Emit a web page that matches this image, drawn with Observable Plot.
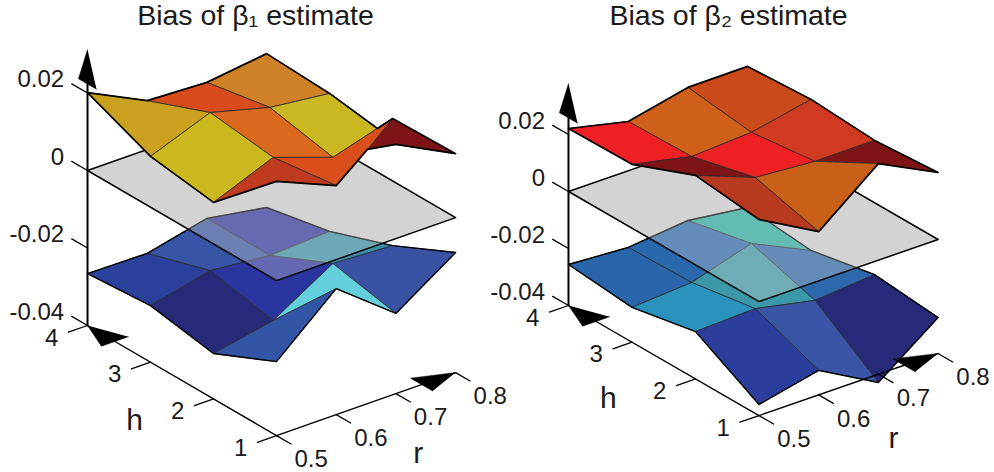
<!DOCTYPE html>
<html>
<head>
<meta charset="utf-8">
<script src="https://cdn.jsdelivr.net/npm/d3@7"></script>
<script src="https://cdn.jsdelivr.net/npm/@observablehq/plot@0.6"></script>
<style>html,body{margin:0;padding:0;background:#fff}svg{display:block}</style>
</head>
<body>
<div id="chart"></div>
<script>
const rValues = [0.5, 0.6, 0.7, 0.8];
const hValues = [4, 3, 2, 1];
const zTicks = [0.02, 0, -0.02, -0.04];
const zTickLabels = ["0.02", "0", "-0.02", "-0.04"];

// bias values: rows follow hValues, columns follow rValues
const beta1Upper = [
  [0.0201, 0.0126, 0.0119, 0.0139],
  [0.0131, 0.0190, 0.0149, 0.0131],
  [0.0107, 0.0169, 0.0115, 0.0161],
  [0.0256, 0.0191, 0.0243, 0.0165]
];
const beta1Lower = [
  [-0.0266, -0.0268, -0.0232, -0.0258],
  [-0.0254, -0.0218, -0.0233, -0.0225],
  [-0.0283, -0.0252, -0.0159, -0.0167],
  [-0.0209, -0.0075, -0.0193, -0.0090]
];
const beta2Upper = [
  [0.0221, 0.0173, 0.0220, 0.0221],
  [0.0224, 0.0179, 0.0191, 0.0234],
  [0.0314, 0.0234, 0.0218, 0.0219],
  [0.0288, 0.0173, 0.0339, 0.0235]
];
const beta2Lower = [
  [-0.0256, -0.0269, -0.0247, -0.0274],
  [-0.0278, -0.0263, -0.0199, -0.0296],
  [-0.0234, -0.0226, -0.0270, -0.0252],
  [-0.0361, -0.0314, -0.0429, -0.0274]
];

// cell colours: rows run from h=4 to h=1, columns from r=0.5 to r=0.8
const beta1UpperColors = [
  ["#c9a11e", "#d84b1c", "#cf8128"],
  ["#cbb81f", "#da681d", "#c9b821"],
  ["#c03a1f", "#d94e1b", "#7f1416"]
];
const beta1LowerColors = [
  ["#2b409b", "#3855a5", "#2f33a0"],
  ["#262a78", "#2a35a0", "#3a90a8"],
  ["#3355a5", "#63cfdc", "#3952a4"]
];
const beta2UpperColors = [
  ["#ee2024", "#ce6019", "#cb4a1c"],
  ["#7f1416", "#ee2024", "#cf3a20"],
  ["#b73a20", "#c96018", "#7f1416"]
];
const beta2LowerColors = [
  ["#2a65ab", "#2a68ad", "#28b1a5"],
  ["#2a92bd", "#3a98a8", "#2c68ab"],
  ["#2c3e9b", "#3a55a5", "#272a78"]
];

// two extra folds of the beta-1 upper surface
const foldA = {r: 0.8, h: 2.24, z: 0.01125};
const foldB = {r: 0.6524, h: 1, z: 0.0256};

const titleTexts = ["Bias of β₁ estimate", "Bias of β₂ estimate"];

// oblique axes of each panel
const views = [
  {x0: 87, y0: 170, hx: 63, hy: 36.7, rx: 59.7, ry: -21, zy: 3875, titleX: 255, arrowTip: 0.0312, arrowBase: 0.0223,
   hLabel: {r: 0.379, h: 2.106}, rLabel: {r: 0.616, h: -0.15}},
  {x0: 568, y0: 191, hx: 63.5, hy: 36.7, rx: 59.7, ry: -20.7, zy: 2850, titleX: 728, arrowTip: 0.0379, arrowBase: 0.0258,
   hLabel: {r: 0.373, h: 2.18}, rLabel: {r: 0.599, h: -0.186}}
];
const px = (v, r, h) => v.x0 + (4 - h) * v.hx + ((r - 0.5) / 0.1) * v.rx;
const py = (v, r, h, z) => v.y0 + (4 - h) * v.hy + ((r - 0.5) / 0.1) * v.ry - z * v.zy;
const pt = (v, p, extra = {}) => ({x: px(v, p.r, p.h), y: py(v, p.r, p.h, p.z), ...extra});

const gridPoint = (grid, i, j) => ({r: rValues[i], h: hValues[j], z: grid[j][i]});

function surfaceFaces(v, grid, colors, tweak) {
  const rows = [];
  for (let i = 2; i >= 0; i--) for (let j = 0; j < 3; j++) {
    let c = [gridPoint(grid, i, j), gridPoint(grid, i + 1, j), gridPoint(grid, i + 1, j + 1), gridPoint(grid, i, j + 1)];
    if (tweak) c = tweak(i, j, c);
    const id = `${i}-${j}`;
    [...c, c[0]].forEach(p => rows.push(pt(v, p, {id, color: colors[j][i]})));
  }
  return rows;
}
function outline(v, grid, tweak) {
  const b = [];
  for (let i = 0; i < 4; i++) b.push(gridPoint(grid, i, 0));
  for (let j = 1; j < 4; j++) b.push(gridPoint(grid, 3, j));
  for (let i = 2; i >= 0; i--) b.push(gridPoint(grid, i, 3));
  for (let j = 2; j >= 0; j--) b.push(gridPoint(grid, 0, j));
  return (tweak ? tweak(b) : b).map(p => pt(v, p));
}
const planeRows = v => [[0.5,4],[0.8,4],[0.8,1],[0.5,1],[0.5,4]].map(([r,h]) => pt(v, {r, h, z: 0}));

// beta-1 upper surface folds
const beta1Tweak = (i, j, c) => {
  if (i === 2 && j === 1) return [c[0], c[1], foldA, c[2], c[3]];
  if (i === 1 && j === 2) return [c[0], c[1], gridPoint(beta1Upper, 3, 2), foldB, c[3]];
  if (i === 2 && j === 2) return [c[1], c[2], c[3], foldB];
  return c;
};
const beta1Outline = b => {
  const out = [];
  b.forEach(p => {
    if (p.r === 0.8 && p.h === 2) out.push(foldA);
    out.push(p);
    if (p.r === 0.7 && p.h === 1) out.push(foldB);
  });
  return out;
};

const faceLine = rows => Plot.line(rows, {x: "x", y: "y", z: "id", fill: "color", stroke: "#2a2a2a", strokeWidth: 0.8, strokeLinejoin: "round"});
const edgeLine = (rows, w = 1.7) => Plot.line(rows, {x: "x", y: "y", stroke: "black", strokeWidth: w, strokeLinejoin: "round"});

function panelMarks(v, lower, lowerC, upper, upperC, tweak, outlineTweak) {
  const plane = planeRows(v);
  const poly = pts => Plot.line(pts, {x: "x", y: "y", fill: "black", stroke: "black", strokeWidth: 0.5});
  const marks = [
    Plot.line(plane, {x: "x", y: "y", fill: "#d3d3d3", stroke: "none"}),
    faceLine(surfaceFaces(v, lower, lowerC)),
    edgeLine(outline(v, lower), 1.4),
    Plot.line(plane, {x: "x", y: "y", fill: "#d3d3d3", fillOpacity: 0.34, stroke: "none"}),
    edgeLine(plane, 1.5),
    faceLine(surfaceFaces(v, upper, upperC, tweak)),
    edgeLine(outline(v, upper, outlineTweak), 1.7)
  ];
  // axes
  const zb = {r: 0.5, h: 4, z: -0.04};
  marks.push(edgeLine([pt(v, zb), pt(v, {...zb, z: v.arrowBase})], 2));
  marks.push(edgeLine([pt(v, zb), pt(v, {r: 0.5, h: 1, z: -0.04}), pt(v, {r: 0.8, h: 1, z: -0.04})], 1.4));
  // arrowheads
  marks.push(poly([{r:0.5,h:4,z:v.arrowTip},{r:0.5,h:4.143,z:v.arrowBase},{r:0.5,h:3.857,z:v.arrowBase}].map(p => pt(v, p))));
  marks.push(poly([{r:0.5,h:4,z:-0.04},{r:0.4774,h:3.565,z:-0.04},{r:0.5226,h:3.565,z:-0.04}].map(p => pt(v, p))));
  marks.push(poly([{r:0.8,h:1,z:-0.04},{r:0.743,h:1.175,z:-0.04},{r:0.743,h:0.825,z:-0.04}].map(p => pt(v, p))));
  // ticks
  zTicks.forEach(z => marks.push(edgeLine([pt(v, {r:0.5,h:4,z}), pt(v, {r:0.5,h:4.25,z})], 1.3)));
  hValues.forEach(h => marks.push(edgeLine([pt(v, {r:0.5,h,z:-0.04}), pt(v, {r:0.468,h,z:-0.04})], 1.3)));
  rValues.forEach(r => marks.push(edgeLine([pt(v, {r,h:1,z:-0.04}), pt(v, {r,h:0.77,z:-0.04})], 1.3)));
  // labels
  const font = {fontFamily: "Liberation Sans", fill: "#1a1a1a"};
  marks.push(Plot.text(zTicks.map((z, k) => pt(v, {r:0.5,h:4.37,z}, {t: zTickLabels[k]})), {x:"x", y:"y", text:"t", textAnchor:"end", fontSize:24, ...font}));
  marks.push(Plot.text(hValues.map(h => pt(v, {r:0.44,h,z:-0.04}, {t: String(h)})), {x:"x", y:"y", text:"t", fontSize:24, ...font}));
  marks.push(Plot.text(rValues.map(r => pt(v, {r,h:0.45,z:-0.04}, {t: r.toFixed(1)})), {x:"x", y:"y", dy:4, text:"t", fontSize:24, ...font}));
  marks.push(Plot.text([pt(v, {...v.hLabel, z:-0.04}, {t:"h"}), pt(v, {...v.rLabel, z:-0.04}, {t:"r"})], {x:"x", y:"y", text:"t", fontSize:30, ...font}));
  return marks;
}

const chart = Plot.plot({
  width: 994,
  height: 472,
  margin: 0,
  x: {type: "linear", domain: [0, 994], range: [0, 994], axis: null},
  y: {type: "linear", domain: [0, 472], range: [0, 472], axis: null},
  color: {type: "identity"},
  marks: [
    ...panelMarks(views[0], beta1Lower, beta1LowerColors, beta1Upper, beta1UpperColors, beta1Tweak, beta1Outline),
    ...panelMarks(views[1], beta2Lower, beta2LowerColors, beta2Upper, beta2UpperColors),
    Plot.text(titleTexts.map((t, k) => ({t, x: views[k].titleX, y: 15})), {x:"x", y:"y", text:"t", fontSize:28.5, fontFamily:"Liberation Sans", fill:"#1a1a1a"})
  ]
});
document.getElementById("chart").appendChild(chart);
</script>
</body>
</html>
